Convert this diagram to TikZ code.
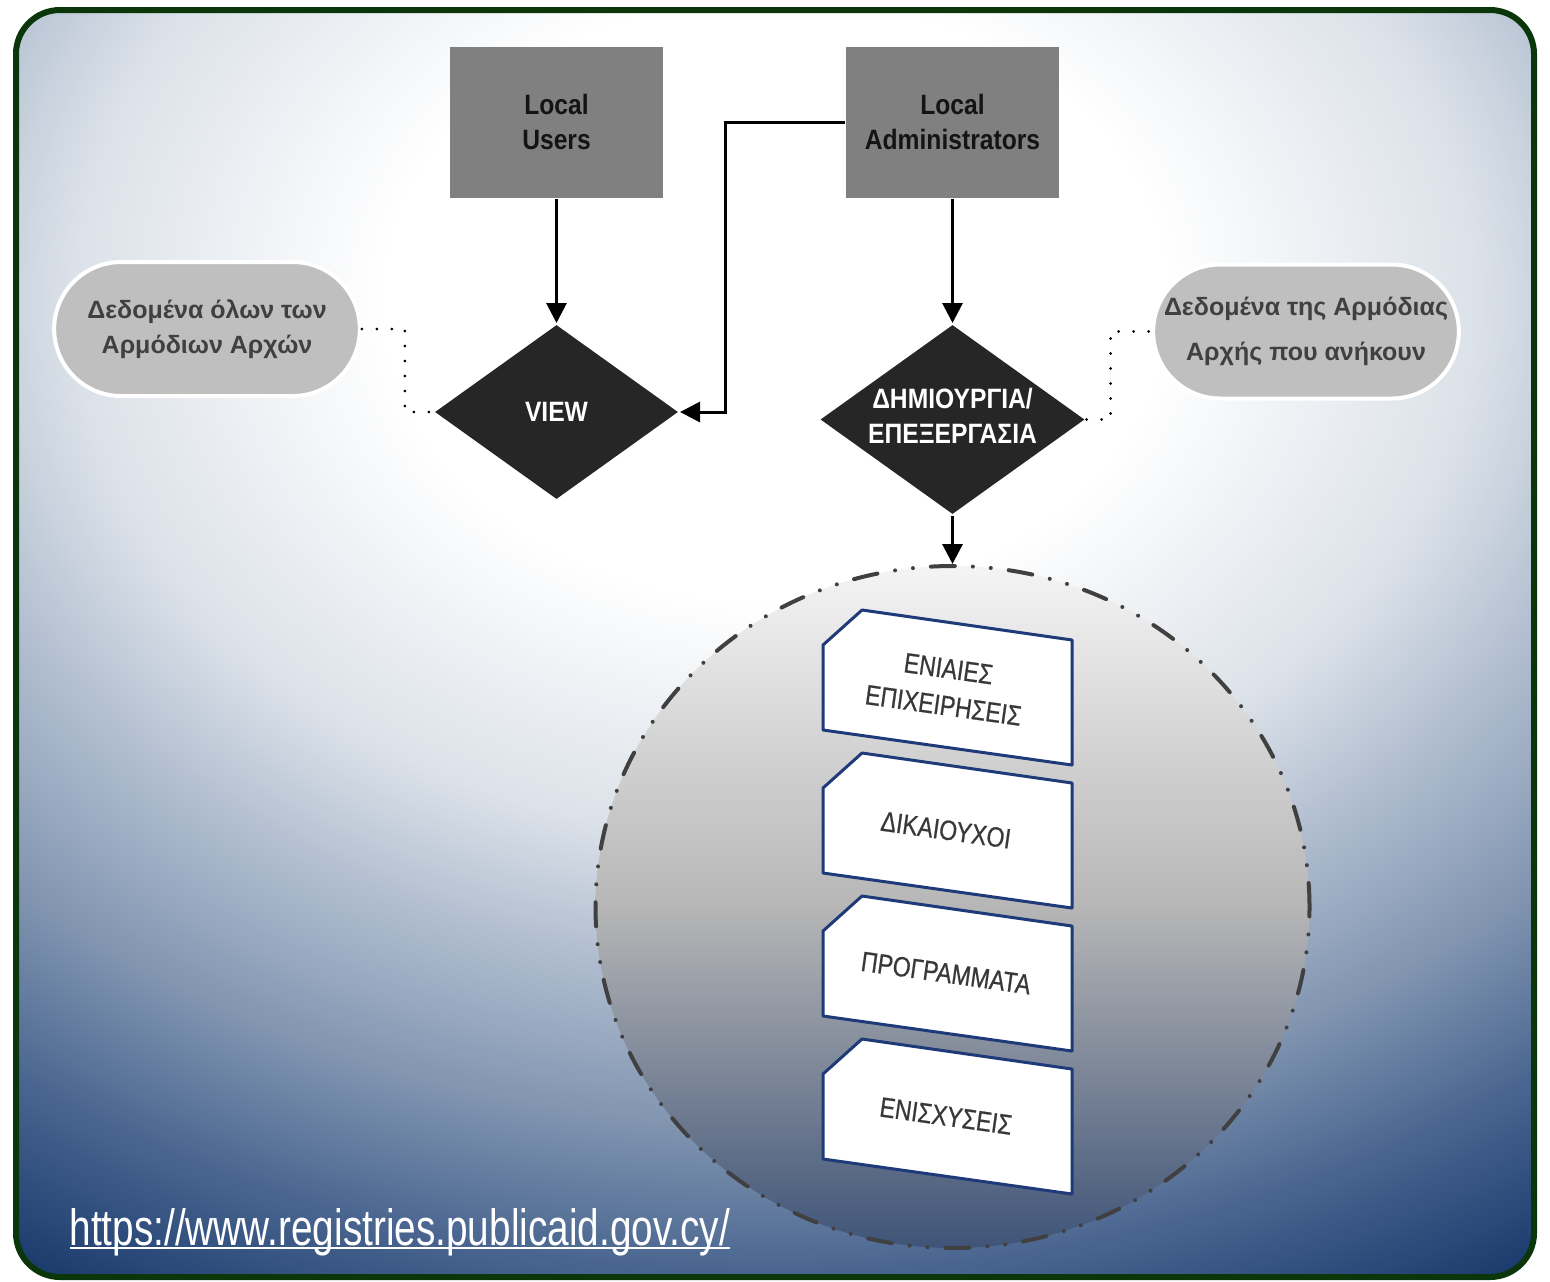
\documentclass[tikz,border=0pt]{standalone}
\usepackage{fontspec}
\setmainfont{Liberation Sans}
\newfontfamily\narrowsans[FakeStretch=0.88]{Liberation Sans}
\newfontfamily\cardsans[FakeStretch=0.82,FakeBold=0.6]{Liberation Sans}
\newfontfamily\urlsans[FakeStretch=0.76]{Liberation Sans}
\usetikzlibrary{arrows.meta,shapes.geometric,shapes.misc,positioning}

\definecolor{boxgray}{HTML}{808080}
\definecolor{diamfill}{HTML}{262626}
\definecolor{pillgray}{HTML}{BFBFBF}
\definecolor{pilltext}{HTML}{404040}
\definecolor{cardtext}{HTML}{383838}
\definecolor{cardnavy}{HTML}{1F3A78}
\definecolor{framegreen}{HTML}{0A360A}
\definecolor{orbline}{HTML}{404040}
\definecolor{orbtop}{HTML}{F4F4F4}
\definecolor{orbmid}{HTML}{B6B6B6}
\definecolor{orbbottom}{HTML}{3F5478}
\definecolor{bgpale}{HTML}{DCE2E9}
\definecolor{bglight}{HTML}{B0BDCF}
\definecolor{bgmid}{HTML}{8094B0}
\definecolor{bgdeep}{HTML}{4A6690}
\definecolor{bgnavy}{HTML}{1A3A6C}

\pgfdeclareradialshading{bgglow}{\pgfpoint{0bp}{0bp}}{color(0bp)=(white); color(6.25bp)=(white); color(11.2bp)=(bgpale); color(14bp)=(bglight); color(17.3bp)=(bgmid); color(20.2bp)=(bgdeep); color(23.5bp)=(bgnavy); color(50bp)=(bgnavy)}

\newcommand{\linkline}[1]{\setbox0=\hbox{#1}\rlap{\rule[-2pt]{\wd0}{1pt}}\box0}

\begin{document}
\begin{tikzpicture}[x=0.5pt, y=-0.5pt, >={Triangle[length=10pt,width=10pt]}, line width=1.5pt,
    actor/.style={rectangle, fill=boxgray, text=black!92, minimum width=106.5pt, minimum height=75.5pt, align=center, font=\narrowsans\bfseries\fontsize{14}{17.5}\selectfont},
    decision/.style={diamond, fill=diamfill, text=white, inner sep=0pt, align=center, font=\narrowsans\bfseries\fontsize{14}{17.5}\selectfont},
    decisiontext/.style={text=white, align=center, yshift=2pt, font=\narrowsans\bfseries\fontsize{14}{17.5}\selectfont},
    scopepill/.style={rounded rectangle, fill=pillgray, draw=white, line width=2pt, text=pilltext, minimum width=159.5pt, minimum height=67pt, align=center},
    dotlink/.style={line width=1.5pt, dash pattern=on 0pt off 7.5pt, line cap=round},
    orb/.style={ellipse, minimum width=357pt, minimum height=341pt, top color=orbtop, bottom color=orbbottom, middle color=orbmid, draw=orbline, line width=2pt, line cap=round, dash pattern=on 12pt off 9pt on 0pt off 9pt on 0pt off 9pt},
    card/.style={fill=white, draw=cardnavy, line width=1.5pt, line join=round},
    cardlabel/.style={rotate=-8, align=center, text=cardtext, font=\cardsans\fontsize{14}{18.5}\selectfont},
    urlnote/.style={inner sep=0pt, text=white, font=\urlsans\fontsize{25.5}{30}\selectfont}]

    \useasboundingbox (0,0) rectangle (1550,1281);

    % background and frame
    \begin{scope}
        \clip[rounded corners=22pt] (16,10) rectangle (1534,1277);
        \shade[shading=bgglow] (775,300) ellipse [x radius=780pt, y radius=600pt];
    \end{scope}
    \draw[framegreen, line width=3pt, rounded corners=22pt] (16,10) rectangle (1534,1277);

    \node[actor]                                          (users)   at (556.5,122)      {Local\\Users};
    \node[actor]                                          (admins)  [right=90pt of users]  {Local\\Administrators};
    \node[decision, minimum width=122pt, minimum height=87.5pt] (view)    [below=62pt of users]  {VIEW};
    \node[decision, minimum width=132.5pt, minimum height=95pt,
          label={[decisiontext]center:ΔΗΜΙΟΥΡΓΙΑ/\\ΕΠΕΞΕΡΓΑΣΙΑ}] (create)  [below=62pt of admins] {};

    \node[scopepill, font=\bfseries\fontsize{12.5}{17.5}\selectfont]  (allpill) at (207,329)    {Δεδομένα όλων των\\Αρμόδιων Αρχών};
    \node[scopepill, font=\bfseries\fontsize{12.5}{22.5}\selectfont]  (ownpill) at (1306,331.5) {Δεδομένα της Αρμόδιας\\Αρχής που ανήκουν};

    \node[orb]                                            (orb)     [below=24pt of create] {};

    % registry cards
    \foreach \lab [count=\i from 0] in {{ΕΝΙΑΙΕΣ\\ΕΠΙΧΕΙΡΗΣΕΙΣ}, ΔΙΚΑΙΟΥΧΟΙ, ΠΡΟΓΡΑΜΜΑΤΑ, ΕΝΙΣΧΥΣΕΙΣ} {
        \draw[card] (823,{645+143*\i}) -- (862,{610+143*\i}) -- (1072,{640+143*\i}) -- (1072,{765+143*\i}) -- (823,{730+143*\i}) -- cycle;
        \node[cardlabel] (card\i) at (946,{687+143*\i}) {\lab};
    }

    \path[->]   (users)     edge    (view)
                (admins)    edge    (create)
                (create)    edge    (orb);
    \draw[->]   (admins.west) -- ++(-119,0) |- (view.east);

    \draw[dotlink]  (allpill.east) -- ++(43,0) |- (view.west);
    \draw[dotlink]  (create.east)  -- ++(24,0) |- (ownpill.west);

    \node[urlnote, anchor=base west]                      (site)    at (68,1245) {\linkline{https://www.registries.publicaid.gov.cy/}};

\end{tikzpicture}
\end{document}
